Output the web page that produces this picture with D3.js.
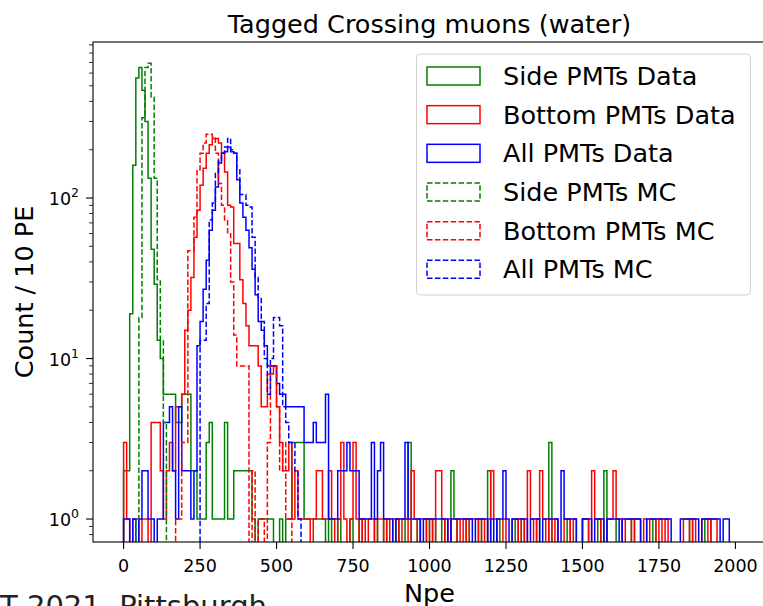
<!DOCTYPE html>
<html><head><meta charset="utf-8">
<script src="https://cdn.jsdelivr.net/npm/d3@7/dist/d3.min.js"></script>
<style>body{margin:0;background:#fff}svg{display:block}text{font-family:"DejaVu Sans",sans-serif}</style>
</head><body>
<svg id="c" width="763" height="606"></svg>
<script>
// bins of 10 PE starting at 0 (200 bins: 0..1990)
const binWidth = 10;
const sideData = [
 2,2,19,160,560,650,470,300,133,48,
 29,13,10,6,6,6,6,4,4,6,
 6,6,2,2,1,1,1,3,4,1,
 1,1,1,4,1,1,2,2,2,2,
 2,2,1,0,1,1,1,1,1,0,
 0,1,0,1,1,3,3,3,3,1,
 1,1,1,1,1,1,0,1,0,0,
 1,0,0,0,1,0,0,1,0,0,
 0,0,1,0,0,1,0,0,0,1,
 0,0,1,3,0,0,1,0,0,1,
 0,1,0,0,1,0,0,2,1,0,
 0,0,1,0,0,0,1,0,0,2,
 0,0,1,0,0,0,0,0,1,0,
 1,0,0,0,0,1,0,0,0,3,
 0,0,0,0,0,1,0,0,0,0,
 1,1,0,0,0,1,0,2,0,0,
 0,1,1,0,0,0,1,0,0,0,
 0,0,0,1,0,0,0,0,0,0,
 0,0,0,0,0,1,0,0,0,0,
 1,1,0,0,0,0,0,0,0,0];
const bottomData = [
 3,1,0,1,1,0,1,1,0,4,
 4,4,2,1,2,3,2,5,5,6,
 15,20,32,57,84,120,153,190,215,235,
 235,220,190,145,90,88,52,52,31,22,
 16,12,12,12,9,5,5,8,8,9,
 5,3,2,2,3,1,2,1,1,1,
 1,0,1,2,2,1,1,2,1,0,
 1,3,1,0,1,3,1,0,1,0,
 1,1,0,1,1,0,1,0,1,1,
 0,1,1,0,2,1,0,1,1,0,
 1,0,2,2,1,0,1,0,0,1,
 0,1,0,1,1,1,0,1,0,1,
 2,1,0,0,1,0,0,1,1,0,
 1,0,2,1,0,1,2,1,0,1,
 0,1,0,0,1,1,0,1,0,0,
 1,1,0,2,1,1,0,0,1,1,
 2,1,1,0,1,1,0,1,1,0,
 1,0,1,1,0,1,0,1,0,0,
 0,0,0,1,1,0,1,0,0,1,
 1,0,1,1,0,0,0,0,0,0];
const allData = [
 1,1,0,1,0,1,2,2,1,1,
 0,1,1,4,4,5,2,1,5,2,
 2,2,1,2,12,17,27,41,63,84,
 117,165,190,194,208,194,190,130,93,76,
 63,49,36,25,17,15,12,9,9,9,
 7,6,6,5,5,5,5,5,5,3,
 3,3,4,3,3,3,6,1,1,1,
 2,2,2,3,2,2,2,1,1,1,
 1,3,1,2,3,1,1,1,0,1,
 1,1,3,1,1,1,1,0,1,1,
 1,1,1,1,1,1,0,1,1,1,
 1,1,1,1,0,1,1,1,1,0,
 1,0,1,1,2,1,0,1,1,1,
 1,1,0,1,1,1,0,1,1,1,
 1,1,0,2,1,1,1,1,0,0,
 1,1,1,0,1,1,1,0,1,1,
 1,1,0,1,1,1,1,1,1,0,
 0,1,1,1,1,1,1,1,1,0,
 0,0,1,1,1,1,1,1,0,1,
 1,1,1,1,1,0,1,1,0,0];
// MC: only the non-empty leading part; remaining bins are 0
const sideMC = [0,0,0,0,1,18,316,650,690,425,133,31,13,4];
const bottomMC = [
 0,0,0,0,0,0,0,0,0,0,
 0,0,0,0,0,0,0,1,1,3,
 3,47,47,76,150,190,220,250,250,240,
 190,123,90,73,60,30,14,9,9,9,
 9,0,2,0,1,1,0,3,9,9,
 5,2,3,1,1];
const allMC = [
 0,0,0,0,0,0,0,0,0,0,
 0,0,0,0,0,0,0,0,0,0,
 0,0,0,0,0,13,13,22,73,93,
 145,170,190,208,235,200,190,150,105,105,
 90,88,57,32,24,17,10,6,10,18,
 18,16,5,4,3,3,2,1];
const nBins = 200;
const xTicks = [0,250,500,750,1000,1250,1500,1750,2000];
const yTicks = [1,10,100];
const yTickExp = ["0","1","2"];
const seriesNames = ["Side PMTs Data","Bottom PMTs Data","All PMTs Data","Side PMTs MC","Bottom PMTs MC","All PMTs MC"];
const seriesColors = ["#008000","#ff0000","#0000ff","#008000","#ff0000","#0000ff"];
const seriesDashed = [false,false,false,true,true,true];
const seriesValues = [sideData,bottomData,allData,sideMC,bottomMC,allMC];

const svg = d3.select("#c");
const L=93, R=766, T=42, B=542;
const x = d3.scaleLinear().domain([-100,2100]).range([L,R]);
const y = d3.scaleLog().domain([Math.pow(10,-0.143),Math.pow(10,2.972)]).range([B,T]);

svg.append("defs").append("clipPath").attr("id","clip")
  .append("rect").attr("x",L).attr("y",T).attr("width",R-L).attr("height",B-T);

const g = svg.append("g").attr("clip-path","url(#clip)");
const yFar = B + 50;
seriesValues.forEach((vals,k)=>{
  const pts=[];
  pts.push([x(0), yFar]);
  for(let i=0;i<nBins;i++){
    const v = i<vals.length ? vals[i] : 0;
    const yy = v>0 ? y(v) : yFar;
    pts.push([x(i*binWidth), yy]);
    pts.push([x((i+1)*binWidth), yy]);
  }
  pts.push([x(nBins*binWidth), yFar]);
  g.append("path").attr("d", d3.line()(pts))
    .attr("fill","none").attr("stroke",seriesColors[k]).attr("stroke-width",1.5)
    .attr("stroke-linejoin","miter")
    .attr("stroke-dasharray", seriesDashed[k] ? "5.5,2.4" : null);
});

// frame
svg.append("rect").attr("x",L).attr("y",T).attr("width",R-L).attr("height",B-T)
  .attr("fill","none").attr("stroke","#000").attr("stroke-width",1.1);

// x axis
const xa = svg.append("g");
xTicks.forEach(t=>{
  xa.append("line").attr("x1",x(t)).attr("x2",x(t)).attr("y1",B).attr("y2",B+7).attr("stroke","#000").attr("stroke-width",1.1);
  xa.append("text").attr("x",x(t)).attr("y",572).attr("text-anchor","middle").attr("font-size",17.5).text(t);
});
// y axis
const ya = svg.append("g");
const [d0,d1]=y.domain();
for(let e=-1;e<=3;e++){
  for(let m=1;m<=9;m++){
    const v=m*Math.pow(10,e);
    if(v<d0||v>d1) continue;
    const major = m===1;
    ya.append("line").attr("x1",L).attr("x2",L-(major?7:4)).attr("y1",y(v)).attr("y2",y(v)).attr("stroke","#000").attr("stroke-width",major?1.1:0.8);
  }
}
yTicks.forEach((t,i)=>{
  const tx = ya.append("text").attr("x",79).attr("y",y(t)+7).attr("text-anchor","end").attr("font-size",17.5);
  tx.append("tspan").text("10");
  tx.append("tspan").attr("dy",-8).attr("font-size",12.5).text(yTickExp[i]);
});

// labels
svg.append("text").attr("x",(L+R)/2).attr("y",33).attr("text-anchor","middle").attr("font-size",25.5).text("Tagged Crossing muons (water)");
svg.append("text").attr("x",(L+R)/2).attr("y",602).attr("text-anchor","middle").attr("font-size",25.5).text("Npe");
svg.append("text").attr("transform","translate(33,"+((T+B)/2)+") rotate(-90)").attr("text-anchor","middle").attr("font-size",25.5).text("Count / 10 PE");
svg.append("text").attr("x",0).attr("y",616).attr("font-size",29).attr("fill","#222").text("T 2021, Pittsburgh");

// legend
const lg = svg.append("g");
lg.append("rect").attr("x",416.5).attr("y",54).attr("width",334).attr("height",241).attr("rx",4)
  .attr("fill","#fff").attr("fill-opacity",0.85).attr("stroke","#d0d0d0").attr("stroke-width",1);
const rowY = d3.scaleLinear().domain([0,5]).range([76,269.3]);
seriesNames.forEach((n,k)=>{
  const cy=rowY(k);
  lg.append("rect").attr("x",427).attr("y",cy-9).attr("width",53).attr("height",18)
    .attr("fill","none").attr("stroke",seriesColors[k]).attr("stroke-width",1.5)
    .attr("stroke-dasharray", seriesDashed[k] ? "5.5,2.4" : null);
  lg.append("text").attr("x",503).attr("y",cy+9).attr("font-size",25.5).text(n);
});
</script>
</body></html>
